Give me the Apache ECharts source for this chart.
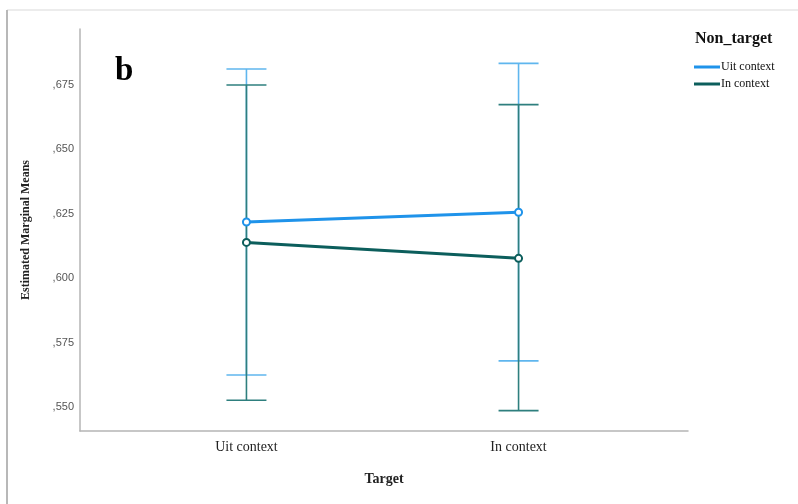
<!DOCTYPE html>
<html><head><meta charset="utf-8">
<script src="https://cdn.jsdelivr.net/npm/echarts@6/dist/echarts.min.js"></script>
<style>html,body{margin:0;padding:0;background:#fff}#c{width:798px;height:504px}</style>
</head><body><div id="c"></div>
<script>
const categories = ['Uit context', 'In context'];
const seriesNames = ['Uit context', 'In context'];
const uitMeans = [0.6218, 0.6256];
const uitLower = [0.5624, 0.5679];
const uitUpper = [0.6812, 0.6834];
const inMeans = [0.6139, 0.6077];
const inLower = [0.5526, 0.5486];
const inUpper = [0.6750, 0.6674];
const yTicks = [0.550, 0.575, 0.600, 0.625, 0.650, 0.675];
const xPos = [0, 1];

const chart = echarts.init(document.getElementById('c'));
const serif = '"Liberation Serif","DejaVu Serif",serif';
const blueLine = '#1f93ea', blueBar = '#5fb6ee';
const tealLine = '#0c5e5c', tealBar = '#2e7f7e';

function errSeries(name, lo, hi, color) {
  return {
    type: 'custom', name: name, silent: true, z: 2,
    data: xPos.map((x, i) => [x, lo[i], hi[i]]),
    renderItem: function (params, api) {
      const x = api.value(0);
      const p1 = api.coord([x, api.value(1)]);
      const p2 = api.coord([x, api.value(2)]);
      const hw = 20;
      const st = { stroke: color, lineWidth: 1.6 };
      return { type: 'group', children: [
        { type: 'line', shape: { x1: p1[0], y1: p1[1], x2: p2[0], y2: p2[1] }, style: st },
        { type: 'line', shape: { x1: p1[0] - hw, y1: p1[1], x2: p1[0] + hw, y2: p1[1] }, style: st },
        { type: 'line', shape: { x1: p2[0] - hw, y1: p2[1], x2: p2[0] + hw, y2: p2[1] }, style: st }
      ]};
    }
  };
}

chart.setOption({
  animation: false,
  backgroundColor: '#fff',
  grid: { left: 80, right: 110, top: 29, bottom: 73 },
  title: {
    text: 'b', left: 110, top: 50,
    textStyle: { fontFamily: serif, fontWeight: 'bold', fontSize: 33, color: '#000' }
  },
  legend: {
    data: seriesNames, orient: 'vertical', left: 689, top: 56,
    icon: 'rect', itemWidth: 26, itemHeight: 3, itemGap: 5,
    textStyle: { fontFamily: serif, fontSize: 12, color: '#111', padding: [0, 0, 0, -4] }
  },
  xAxis: {
    type: 'value', min: -0.6117, max: 1.6227,
    name: 'Target', nameLocation: 'middle', nameGap: 41,
    nameTextStyle: { fontFamily: serif, fontWeight: 'bold', fontSize: 14, color: '#222' },
    axisLine: { show: true, onZero: false, lineStyle: { color: '#b5b5b5', width: 1.5 } },
    axisTick: { show: false }, splitLine: { show: false },
    axisLabel: {
      customValues: xPos, formatter: v => categories[Math.round(v)],
      fontFamily: serif, fontSize: 14, color: '#222', margin: 9
    }
  },
  yAxis: {
    type: 'value', min: 0.54068, max: 0.69674,
    name: 'Estimated Marginal Means', nameLocation: 'middle', nameGap: 48, nameRotate: 90,
    nameTextStyle: { fontFamily: serif, fontWeight: 'bold', fontSize: 12, color: '#222' },
    axisLine: { show: true, onZero: false, lineStyle: { color: '#b5b5b5', width: 1.5 } },
    axisTick: { show: false }, splitLine: { show: false },
    axisLabel: {
      customValues: yTicks, formatter: v => ',' + Math.round(v * 1000),
      fontFamily: '"Liberation Sans",Arial,sans-serif', fontSize: 11, color: '#555', margin: 6
    }
  },
  graphic: [
    { type: 'text', left: 695, top: 31, style: { text: 'Non_target', font: 'bold 16px ' + serif, fill: '#111' } },
    { type: 'line', shape: { x1: 7, y1: 10, x2: 798, y2: 10 }, style: { stroke: '#e6e6e6', lineWidth: 1.5 }, z: 10 },
    { type: 'line', shape: { x1: 7, y1: 10, x2: 7, y2: 504 }, style: { stroke: '#b8b8b8', lineWidth: 2 }, z: 10 }
  ],
  series: [
    errSeries('err-uit', uitLower, uitUpper, blueBar),
    errSeries('err-in', inLower, inUpper, tealBar),
    {
      name: seriesNames[0], type: 'line', z: 5,
      data: xPos.map((x, i) => [x, uitMeans[i]]),
      symbol: 'emptyCircle', symbolSize: 7,
      lineStyle: { color: blueLine, width: 3 },
      itemStyle: { color: blueLine, borderWidth: 1.5 }
    },
    {
      name: seriesNames[1], type: 'line', z: 5,
      data: xPos.map((x, i) => [x, inMeans[i]]),
      symbol: 'emptyCircle', symbolSize: 7,
      lineStyle: { color: tealLine, width: 3 },
      itemStyle: { color: tealLine, borderWidth: 1.5 }
    }
  ]
});
</script></body></html>
